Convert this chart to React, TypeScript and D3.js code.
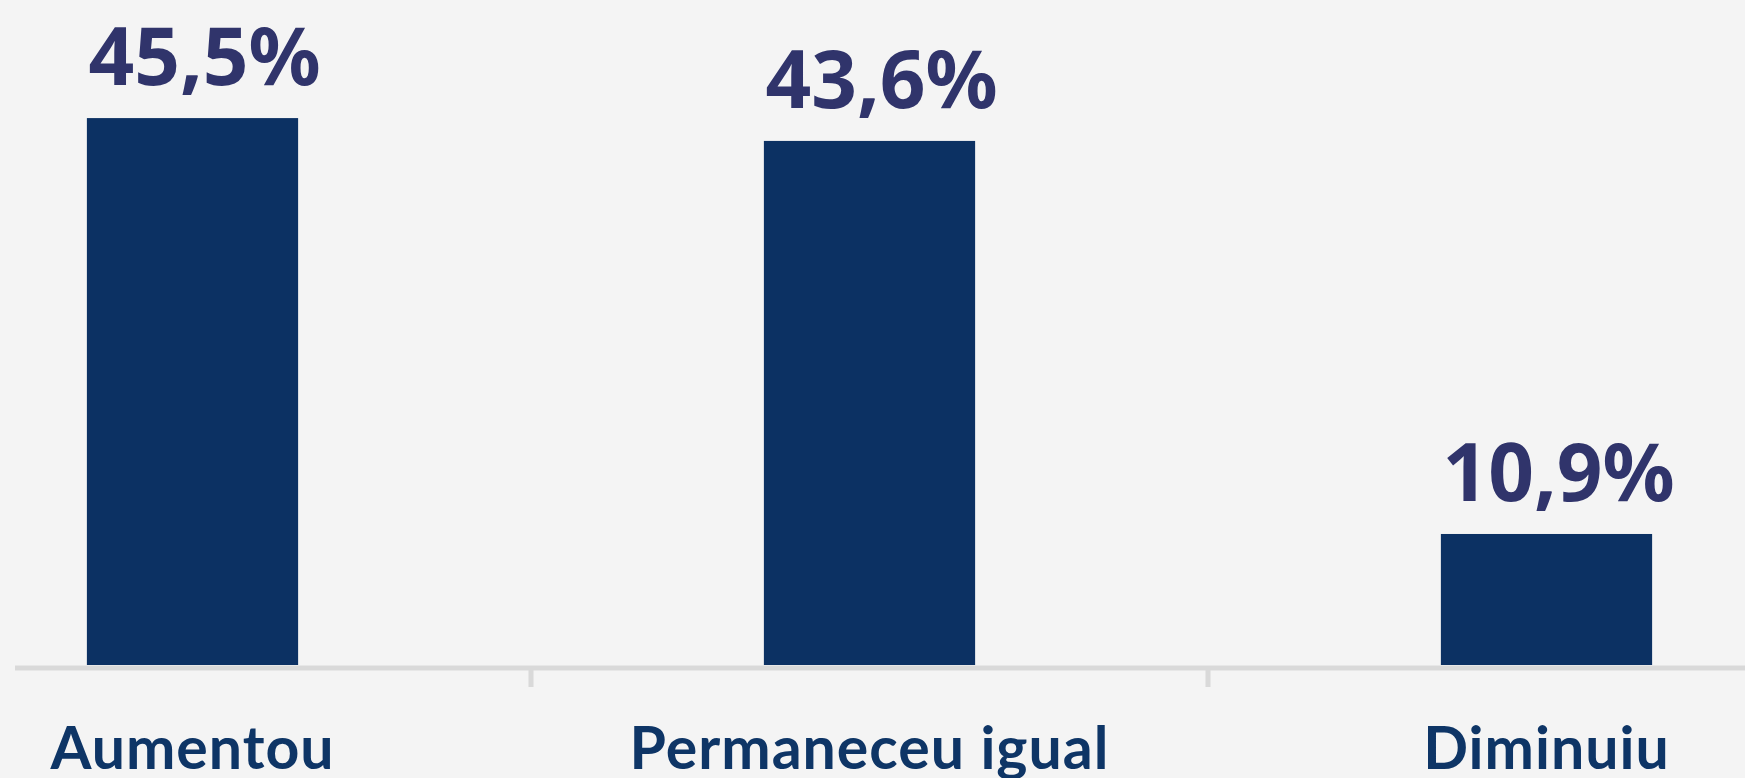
import React, { useRef, useEffect } from 'react';
import * as d3 from 'd3';

// Chart data
const categories = ['Aumentou', 'Permaneceu igual', 'Diminuiu'];
const values = [45.5, 43.6, 10.9];
const valueLabels = ['45,5%', '43,6%', '10,9%'];

const App = () => {
    const svgRef = useRef<SVGSVGElement | null>(null);

    useEffect(() => {
        if (!svgRef.current) return;

        d3.select(svgRef.current).selectAll('*').remove();

        const width = 1745;
        const height = 778;
        const baseline = 665;

        const svg = d3.select(svgRef.current)
            .attr('width', width)
            .attr('height', height);

        // Background
        svg.append('rect')
            .attr('width', width)
            .attr('height', height)
            .attr('fill', '#f4f4f4');

        // Scales (the plot is cropped on both sides)
        const x = d3.scaleBand<string>()
            .domain(categories)
            .range([-146, 1885])
            .paddingInner(0.688)
            .paddingOuter(0.344);

        const y = d3.scaleLinear()
            .domain([0, 50])
            .range([baseline, 64]);

        const step = x.step();

        // Bars
        svg.selectAll('.bar')
            .data(values)
            .enter()
            .append('rect')
            .attr('class', 'bar')
            .attr('x', (d, i) => x(categories[i]) as number)
            .attr('y', d => y(d))
            .attr('width', x.bandwidth())
            .attr('height', d => baseline - y(d))
            .attr('fill', '#0c3163');

        // Axis line
        svg.append('line')
            .attr('x1', 15)
            .attr('x2', width)
            .attr('y1', 668)
            .attr('y2', 668)
            .attr('stroke', '#d9d9d9')
            .attr('stroke-width', 5);

        // Ticks between categories
        svg.selectAll('.tick')
            .data(categories.slice(1))
            .enter()
            .append('line')
            .attr('class', 'tick')
            .attr('x1', d => (x(d) as number) - (step * 0.344))
            .attr('x2', d => (x(d) as number) - (step * 0.344))
            .attr('y1', 668)
            .attr('y2', 687)
            .attr('stroke', '#d9d9d9')
            .attr('stroke-width', 5);

        // Value labels
        svg.selectAll('.value')
            .data(values)
            .enter()
            .append('text')
            .attr('class', 'value')
            .attr('x', (d, i) => (x(categories[i]) as number) + x.bandwidth() / 2 + 12)
            .attr('y', d => y(d) - 33)
            .attr('text-anchor', 'middle')
            .style('font-family', '"Noto Sans", sans-serif')
            .style('font-weight', 700)
            .style('font-size', '80px')
            .style('fill', '#30346b')
            .text((d, i) => valueLabels[i]);

        // Category labels
        svg.selectAll('.cat')
            .data(categories)
            .enter()
            .append('text')
            .attr('class', 'cat')
            .attr('x', d => (x(d) as number) + x.bandwidth() / 2)
            .attr('y', 769)
            .attr('text-anchor', 'middle')
            .style('font-family', 'Lato, sans-serif')
            .style('font-weight', 700)
            .style('font-size', '59px')
            .style('letter-spacing', '1px')
            .style('fill', '#0e3566')
            .text(d => d);
    }, []);

    return (
        <svg ref={svgRef} style={{ position: 'absolute', left: 0, top: 0, display: 'block' }}></svg>
    );
};

export default App;
